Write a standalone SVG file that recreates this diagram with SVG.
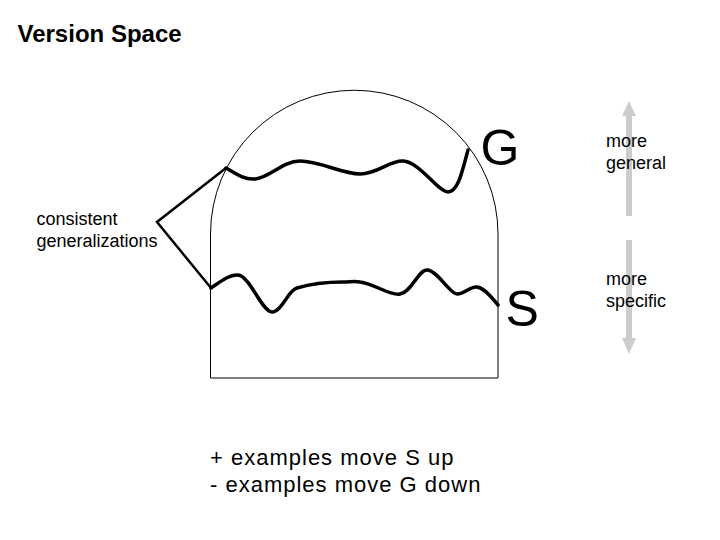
<svg xmlns="http://www.w3.org/2000/svg" width="720" height="540" viewBox="0 0 720 540">
  <style>
    text { font-family: "Liberation Sans", Arial, sans-serif; fill: #000; }
    .lbl { font-size: 18px; }
    .big { font-size: 50px; }
    .note { font-size: 22px; letter-spacing: 1px; }
    .wave { fill: none; stroke: #000; stroke-width: 3.5; stroke-linecap: round; stroke-linejoin: round; }
    .conn { fill: none; stroke: #000; stroke-width: 2.5; stroke-linecap: round; stroke-linejoin: miter; }
    .outline { fill: none; stroke: #000; stroke-width: 1; }
    .grey { fill: #cccccc; stroke: none; }
  </style>
  <rect width="720" height="540" fill="#fff"/>

  <g id="title">
    <text x="17.5" y="41.5" font-size="24" font-weight="bold">Version Space</text>
  </g>

  <g id="version-space">
    <path class="outline" d="M210.5,378 V234 A143.75,143.75 0 0 1 498,234 V378 Z"/>
  </g>

  <g id="G-boundary">
    <path class="wave" d="M226,168 C236,174 245,180 255,179 C270,178 282,161 300,161 C320,161 342,174 360,174 C378,174 390,160 403,161 C420,162 438,192 448,192 C458,192 462,172 468,150"/>
    <text class="big" x="480.5" y="164.5">G</text>
  </g>

  <g id="S-boundary">
    <path class="wave" d="M211,288 C220,282 230,274 238,275 C250,276 262,312 272,312 C282,312 288,290 297,288 C310,284 330,282 343,282 C350,282 355,281 360,282 C375,284 390,296 400,294 C412,292 418,270 427,270 C437,270 450,294 457,294 C465,294 470,286 477,287 C485,288 492,298 498,305"/>
    <text class="big" x="505.5" y="326">S</text>
  </g>

  <g id="consistent-generalizations">
    <text class="lbl" x="36.5" y="225">consistent</text>
    <text class="lbl" x="36.5" y="246.5">generalizations</text>
  </g>

  <g id="connectors">
    <path class="conn" d="M226,168 L157,222 L211,288"/>
  </g>

  <g id="more-general">
    <path class="grey" d="M629,101 L636,116 L632,116 L632,216 L626,216 L626,116 L622,116 Z"/>
    <text class="lbl" x="606" y="147">more</text>
    <text class="lbl" x="606" y="168.5">general</text>
  </g>

  <g id="more-specific">
    <path class="grey" d="M626,240 L632,240 L632,338 L636,338 L629,354 L622,338 L626,338 Z"/>
    <text class="lbl" x="606" y="285">more</text>
    <text class="lbl" x="606" y="306.5">specific</text>
  </g>

  <g id="notes">
    <text class="note" x="210" y="465">+ examples move S up</text>
    <text class="note" x="210" y="492">- examples move G down</text>
  </g>
</svg>
